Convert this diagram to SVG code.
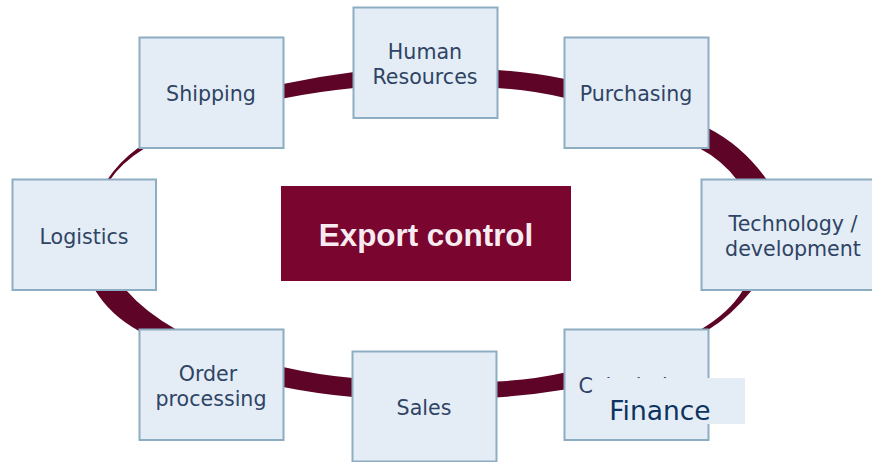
<svg xmlns="http://www.w3.org/2000/svg" width="872" height="462" viewBox="0 0 872 462">
<style>
.n{fill:#e4edf6;stroke:#8dadc2;stroke-width:2}
.t{font-family:"DejaVu Sans",Verdana,sans-serif;font-size:20.6px;fill:#2f4464;text-anchor:middle}
.c{fill:#5e0426}
</style>
<rect width="872" height="462" fill="#ffffff"/>
<g id="connectors">
<path class="c" d="M283 84Q318 76.500 354 72L354 88Q318 91.500 283 98.500Z"/>
<path class="c" d="M497 70Q532 72 565 79L565 98Q532 90 497 88Z"/>
<path class="c" d="M708 128Q743 146 767 180L737 180Q722 160 699 148Z"/>
<path class="c" d="M752 290Q731 316 708 330L700 330Q730 312 743 290Z"/>
<path class="c" d="M496 381.500Q532 380 565 372.500L565 389.500Q532 395 496 397.500Z"/>
<path class="c" d="M283 367Q318 375 353 378L353 397Q318 394 283 387Z"/>
<path class="c" d="M95 290Q110 315 139 331L177 330Q145 312 126 290Z"/>
<path class="c" d="M145 148L138 148Q120 161 107 180L110 180Q121 163 145 148Z"/>
</g>
<g id="center"><rect x="281" y="186" width="290" height="95" fill="#7a052f"/><text x="426" y="246" font-family="'Liberation Sans',Arial,sans-serif" font-weight="700" font-size="31.400" fill="#f8ebf0" text-anchor="middle">Export control</text></g>
<g id="shipping"><rect class="n" x="139.500" y="37.500" width="144" height="110.500"/><text class="t" x="211" y="101">Shipping</text></g>
<g id="human-resources"><rect class="n" x="353.500" y="7.500" width="144" height="110.500"/><text class="t" x="425" y="59">Human</text><text class="t" x="425" y="84">Resources</text></g>
<g id="purchasing"><rect class="n" x="564.500" y="37.500" width="144" height="110.500"/><text class="t" x="636" y="101">Purchasing</text></g>
<g id="technology"><rect class="n" x="701.500" y="179.500" width="172" height="110.500"/><text class="t" x="793" y="231">Technology /</text><text class="t" x="793" y="256">development</text></g>
<g id="logistics"><rect class="n" x="12.500" y="179.500" width="143.500" height="110.500"/><text class="t" x="84" y="244">Logistics</text></g>
<g id="order-processing"><rect class="n" x="139.500" y="329.500" width="144" height="110.500"/><text class="t" x="208" y="381">Order</text><text class="t" x="211" y="406">processing</text></g>
<g id="sales"><rect class="n" x="352.500" y="351.500" width="144" height="110"/><text class="t" x="424" y="415">Sales</text></g>
<g id="finance"><rect class="n" x="564.500" y="329.500" width="144" height="110.500"/><text class="t" x="636" y="393">Calculation</text><rect x="593" y="378" width="152" height="46" fill="#e4edf6"/><text x="660" y="420" font-family="'DejaVu Sans',Verdana,sans-serif" font-size="26.500" fill="#0d3360" text-anchor="middle">Finance</text></g>
</svg>
